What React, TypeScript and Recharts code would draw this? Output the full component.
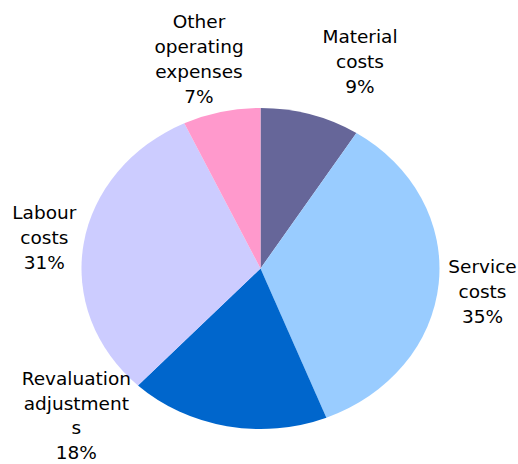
import React from "react";
import { PieChart, Pie, Cell } from "recharts";

const categories = [
  "Material costs",
  "Service costs",
  "Revaluation adjustments",
  "Labour costs",
  "Other operating expenses",
];
const values = [9, 35, 18, 31, 7];
const labelLines = [
  ["Material", "costs"],
  ["Service", "costs"],
  ["Revaluation", "adjustment", "s"],
  ["Labour", "costs"],
  ["Other", "operating", "expenses"],
];
const colors = ["#666699", "#99CCFF", "#0066CC", "#CCCCFF", "#FF99CC"];

const data = categories.map((name, i) => ({ name, value: values[i] }));

// label layout (offset of first baseline from pie centre)
const labelOffsets = [
  { dx: 99.5, dy: -225.2 },
  { dx: 222, dy: 4.8 },
  { dx: -184.2, dy: 116.3 },
  { dx: -216.2, dy: -49.2 },
  { dx: -61.5, dy: -240.2 },
];
const LINE = 24.8;
const STRETCH = 179 / 160.5;
const RAD = Math.PI / 180;

const EllipseSector = (props: any) => {
  const { cx, cy, outerRadius, startAngle, endAngle, fill } = props;
  const rx = outerRadius * STRETCH;
  const ry = outerRadius;
  const p = (a: number) => [cx + rx * Math.cos(a * RAD), cy - ry * Math.sin(a * RAD)];
  const [x1, y1] = p(startAngle);
  const [x2, y2] = p(endAngle);
  const large = Math.abs(startAngle - endAngle) > 180 ? 1 : 0;
  const sweep = startAngle > endAngle ? 1 : 0;
  const d = `M${cx},${cy} L${x1},${y1} A${rx},${ry} 0 ${large} ${sweep} ${x2},${y2} Z`;
  return <path d={d} fill={fill} stroke="none" />;
};

const renderLabel = (props: any) => {
  const { cx, cy, index, percent } = props;
  const off = labelOffsets[index];
  const lines = [...labelLines[index], `${Math.round(percent * 100)}%`];
  const x = cx + off.dx;
  const y = cy + off.dy;
  return (
    <text
      x={x}
      y={y}
      textAnchor="middle"
      fill="#000"
      fontFamily="'DejaVu Sans', Verdana, sans-serif"
      fontSize={18.5}
    >
      {lines.map((l, i) => (
        <tspan key={i} x={x} y={y + i * LINE}>
          {l}
        </tspan>
      ))}
    </text>
  );
};

export default function App() {
  return (
    <div style={{ position: "absolute", left: 0, top: 0, width: 518, height: 464, background: "#fff" }}>
      <PieChart width={518} height={464} margin={{ top: 0, right: 0, bottom: 0, left: 0 }}>
        <Pie
          data={data}
          dataKey="value"
          nameKey="name"
          cx={260.5}
          cy={268.5}
          outerRadius={160.5}
          startAngle={90}
          endAngle={-270}
          stroke="none"
          isAnimationActive={false}
          shape={EllipseSector}
          label={renderLabel}
          labelLine={false}
        >
          {data.map((d, i) => (
            <Cell key={d.name} fill={colors[i]} />
          ))}
        </Pie>
      </PieChart>
    </div>
  );
}
